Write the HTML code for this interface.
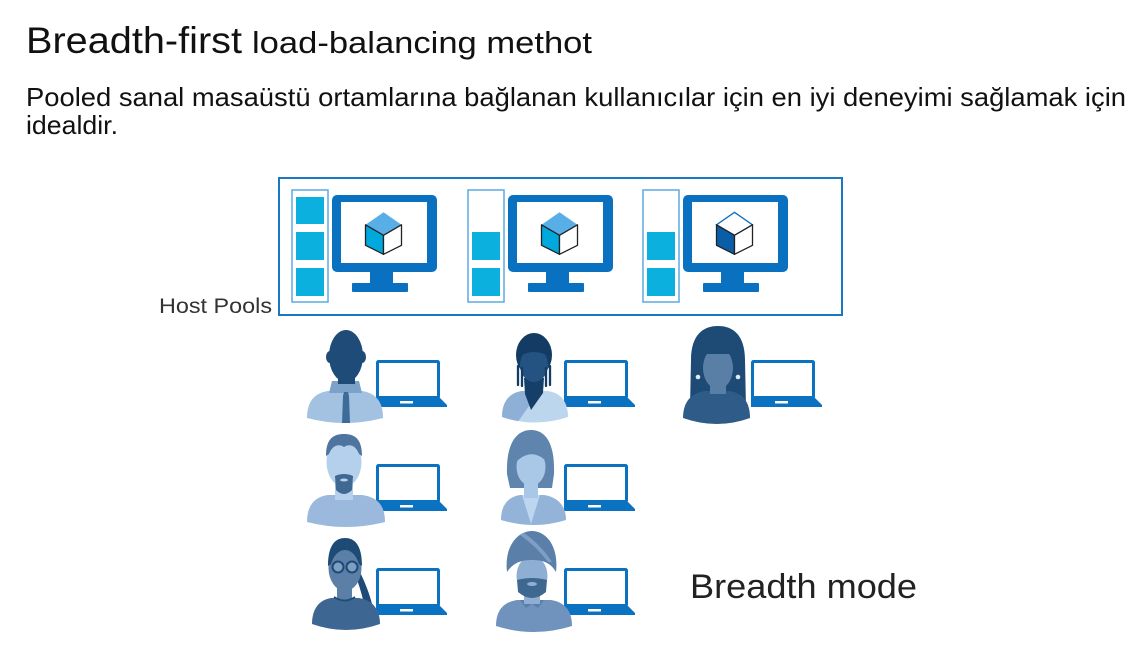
<!DOCTYPE html>
<html>
<head>
<meta charset="utf-8">
<style>
html,body{margin:0;padding:0;background:#fff;}
svg{display:block;}
text{font-family:"Liberation Sans","DejaVu Sans",sans-serif;}
</style>
</head>
<body>
<svg width="1142" height="654" viewBox="0 0 1142 654" xmlns="http://www.w3.org/2000/svg">
<rect width="1142" height="654" fill="#fff"/>

<!-- Title -->
<text x="26" y="53" font-size="37" fill="#111" textLength="216" lengthAdjust="spacingAndGlyphs">Breadth-first</text>
<text x="252" y="53" font-size="31" fill="#111" textLength="340" lengthAdjust="spacingAndGlyphs">load-balancing methot</text>
<text x="26" y="106" font-size="26" fill="#111" textLength="1100" lengthAdjust="spacingAndGlyphs">Pooled sanal masaüstü ortamlarına bağlanan kullanıcılar için en iyi deneyimi sağlamak için</text>
<text x="26" y="134" font-size="26" fill="#111" textLength="92" lengthAdjust="spacingAndGlyphs">idealdir.</text>

<!-- Host pools -->
<text x="159" y="313" font-size="21" fill="#333" textLength="113" lengthAdjust="spacingAndGlyphs">Host Pools</text>
<rect x="279" y="178" width="563" height="137" fill="none" stroke="#1a78c2" stroke-width="2"/>

<!-- Group 1 -->
<g>
  <rect x="292" y="190" width="36" height="112" fill="#fff" stroke="#5aaae0" stroke-width="1.5"/>
  <rect x="296" y="197" width="28" height="27" fill="#0cb0df"/>
  <rect x="296" y="232" width="28" height="28" fill="#0cb0df"/>
  <rect x="296" y="268" width="28" height="28" fill="#0cb0df"/>
  <rect x="332" y="195" width="105" height="77" rx="5" fill="#0a70c0"/>
  <rect x="341" y="202" width="86" height="61" fill="#fff"/>
  <rect x="370" y="271" width="23" height="13" fill="#0a70c0"/>
  <rect x="352" y="283" width="56" height="9" rx="1" fill="#0a70c0"/>
  <g transform="translate(383.5,212.3)">
    <polygon points="0,0 18,12.5 0,23 -18,12.5" fill="#5aaee8"/>
    <polygon points="-18,12.5 0,23 0,42 -18,33" fill="#00a9dd" stroke="#222" stroke-width="1.3" stroke-linejoin="round"/>
    <polygon points="0,23 18,12.5 18,33 0,42" fill="#fff" stroke="#222" stroke-width="1.3" stroke-linejoin="round"/>
  </g>
</g>

<!-- Group 2 -->
<g transform="translate(176,0)">
  <rect x="292" y="190" width="36" height="112" fill="#fff" stroke="#5aaae0" stroke-width="1.5"/>
  <rect x="296" y="232" width="28" height="28" fill="#0cb0df"/>
  <rect x="296" y="268" width="28" height="28" fill="#0cb0df"/>
  <rect x="332" y="195" width="105" height="77" rx="5" fill="#0a70c0"/>
  <rect x="341" y="202" width="86" height="61" fill="#fff"/>
  <rect x="370" y="271" width="23" height="13" fill="#0a70c0"/>
  <rect x="352" y="283" width="56" height="9" rx="1" fill="#0a70c0"/>
  <g transform="translate(383.5,212.3)">
    <polygon points="0,0 18,12.5 0,23 -18,12.5" fill="#5aaee8"/>
    <polygon points="-18,12.5 0,23 0,42 -18,33" fill="#00a9dd" stroke="#222" stroke-width="1.3" stroke-linejoin="round"/>
    <polygon points="0,23 18,12.5 18,33 0,42" fill="#fff" stroke="#222" stroke-width="1.3" stroke-linejoin="round"/>
  </g>
</g>

<!-- Group 3 -->
<g transform="translate(351,0)">
  <rect x="292" y="190" width="36" height="112" fill="#fff" stroke="#5aaae0" stroke-width="1.5"/>
  <rect x="296" y="232" width="28" height="28" fill="#0cb0df"/>
  <rect x="296" y="268" width="28" height="28" fill="#0cb0df"/>
  <rect x="332" y="195" width="105" height="77" rx="5" fill="#0a70c0"/>
  <rect x="341" y="202" width="86" height="61" fill="#fff"/>
  <rect x="370" y="271" width="23" height="13" fill="#0a70c0"/>
  <rect x="352" y="283" width="56" height="9" rx="1" fill="#0a70c0"/>
  <g transform="translate(383.5,212.3)">
    <polygon points="0,0 18,12.5 0,23 -18,12.5" fill="#fff" stroke="#0a70c0" stroke-width="1.3"/>
    <polygon points="-18,12.5 0,23 0,42 -18,33" fill="#0a5ea8" stroke="#222" stroke-width="1.3" stroke-linejoin="round"/>
    <polygon points="0,23 18,12.5 18,33 0,42" fill="#fff" stroke="#222" stroke-width="1.3" stroke-linejoin="round"/>
  </g>
</g>

<defs>
  <g id="laptop">
    <rect x="1.5" y="1.5" width="61" height="36" rx="1" fill="#fff" stroke="#0b72c2" stroke-width="3"/>
    <path d="M0,37 H63 L71,45 V47 H0 Z" fill="#0b72c2"/>
    <rect x="24" y="41" width="13" height="2.5" fill="#fff"/>
  </g>
</defs>

<!-- Row 1, col 1: man with tie -->
<g transform="translate(376,360)">
  <use href="#laptop"/>
  <path d="M-69,58 C-69,42 -62,33 -48,31 L-14,31 C0,33 7,42 7,58 Q-31,68 -69,58 Z" fill="#a3c1e1"/>
  <path d="M-44,21 L-17,21 L-14,33 L-47,33 Z" fill="#7da2ca"/>
  <rect x="-38" y="6" width="17" height="18" fill="#1e4b77"/>
  <ellipse cx="-46" cy="-3" rx="4" ry="6" fill="#1e4b77"/>
  <ellipse cx="-14" cy="-3" rx="4" ry="6" fill="#1e4b77"/>
  <ellipse cx="-30" cy="-4" rx="17" ry="26" fill="#1e4b77"/>
  <path d="M-32,32 L-28,32 L-27,36 L-26,63 L-34,63 L-33,36 Z" fill="#3e6b99"/>
</g>

<!-- Row 1, col 2: woman with braids -->
<g transform="translate(564,360)">
  <use href="#laptop"/>
  <clipPath id="b2"><path d="M-62,57 C-62,42 -55,33 -42,31 L-16,31 C-3,33 4,42 4,57 Q-29,68 -62,57 Z"/></clipPath>
  <g clip-path="url(#b2)">
    <rect x="-70" y="25" width="80" height="45" fill="#bcd6ee"/>
    <polygon points="-70,25 -20,25 -52,70 -70,70" fill="#8eb0d6"/>
  </g>
  <polygon points="-40,18 -20,18 -21,33 -33,50 -39,34" fill="#153e68"/>
  <ellipse cx="-30" cy="-5" rx="18" ry="22" fill="#133b64"/>
  <ellipse cx="-30" cy="5" rx="14" ry="17" fill="#245281"/>
  <path d="M-44,-8 Q-30,-18 -16,-8 L-16,-4 Q-30,-12 -44,-4 Z" fill="#133b64"/>
  <g stroke="#133b64" stroke-width="2.3" stroke-linecap="round">
    <line x1="-46" y1="6" x2="-46" y2="25"/>
    <line x1="-42" y1="8" x2="-42" y2="26"/>
    <line x1="-18" y1="8" x2="-18" y2="26"/>
    <line x1="-14" y1="6" x2="-14" y2="25"/>
  </g>
</g>

<!-- Row 1, col 3: woman long hair -->
<g transform="translate(751,360)">
  <use href="#laptop"/>
  <path d="M-60,0 C-60,-25 -48,-34 -33,-34 C-18,-34 -6,-25 -6,0 L-5,48 L-61,48 Z" fill="#1e4a76"/>
  <path d="M-68,58 C-68,42 -60,33 -46,31 L-22,31 C-8,33 -1,42 -1,58 Q-34,70 -68,58 Z" fill="#2e5b87"/>
  <rect x="-41" y="14" width="16" height="20" fill="#5a7fa7"/>
  <ellipse cx="-33" cy="8" rx="15" ry="21" fill="#5a7fa7"/>
  <path d="M-49,-10 Q-33,-20 -17,-10 L-17,-6 L-49,-6 Z" fill="#1e4a76"/>
  <circle cx="-53" cy="17" r="2.3" fill="#dfeaf5"/>
  <circle cx="-13" cy="17" r="2.3" fill="#dfeaf5"/>
</g>

<!-- Row 2, col 1: man with goatee -->
<g transform="translate(376,464)">
  <use href="#laptop"/>
  <path d="M-69,58 C-69,42 -62,33 -48,31 L-14,31 C2,33 9,42 9,58 Q-30,68 -69,58 Z" fill="#9ab9dd"/>
  <rect x="-41" y="14" width="18" height="22" fill="#b5d0ec"/>
  <ellipse cx="-32" cy="-2" rx="17.5" ry="25" fill="#b5d0ec"/>
  <path d="M-50,-8 C-50,-26 -42,-30 -32,-30 C-22,-30 -14,-26 -14,-8 L-17,-10 C-20,-18 -26,-21 -32,-17 C-38,-21 -44,-18 -47,-10 Z" fill="#4e75a0"/>
  <path d="M-41,12 Q-32,8 -23,12 L-24,26 Q-32,34 -40,26 Z" fill="#3f6892"/>
  <ellipse cx="-32" cy="16" rx="4" ry="1.5" fill="#b5d0ec"/>
</g>

<!-- Row 2, col 2: woman with bob -->
<g transform="translate(564,464)">
  <use href="#laptop"/>
  <path d="M-57,10 C-58,-20 -48,-34 -33,-34 C-18,-34 -9,-20 -10,10 L-12,24 L-54,24 Z" fill="#5f84ae"/>
  <path d="M-63,56 C-63,41 -56,33 -44,31 L-20,31 C-7,33 2,41 2,56 Q-30,66 -63,56 Z" fill="#93b3d8"/>
  <polygon points="-42,31 -24,31 -33,60" fill="#bdd6ef"/>
  <rect x="-40" y="14" width="14" height="20" fill="#a9c8e8"/>
  <ellipse cx="-33" cy="3" rx="14.5" ry="19" fill="#a9c8e8"/>
  <path d="M-48,-6 C-44,-18 -30,-20 -18,-10 L-19,-4 C-28,-12 -38,-12 -48,-2 Z" fill="#5f84ae"/>
</g>

<!-- Row 3, col 1: woman with glasses -->
<g transform="translate(376,568)">
  <use href="#laptop"/>
  <path d="M-18,0 Q-8,20 -4,36 L-12,36 Q-16,18 -22,4 Z" fill="#1e4a76"/>
  <path d="M-64,56 C-64,41 -57,32 -45,30 L-17,30 C-4,32 4,41 4,56 Q-30,68 -64,56 Z" fill="#3d6792"/>
  <rect x="-39" y="12" width="15" height="20" fill="#5b7fa6"/>
  <path d="M-42,29 Q-31,36 -21,29" fill="none" stroke="#1e4a76" stroke-width="1.8"/>
  <ellipse cx="-31" cy="0" rx="16.5" ry="23" fill="#5b7fa6"/>
  <path d="M-48,-2 C-48,-24 -40,-30 -31,-30 C-22,-30 -14,-24 -14,-2 L-17,-4 C-20,-14 -26,-18 -31,-18 C-36,-18 -42,-14 -45,-4 Z" fill="#1e4a76"/>
  <circle cx="-38" cy="-1" r="5.5" fill="#7f9fc2" stroke="#1e4a76" stroke-width="2"/>
  <circle cx="-24" cy="-1" r="5.5" fill="#7f9fc2" stroke="#1e4a76" stroke-width="2"/>
</g>

<!-- Row 3, col 2: man with turban -->
<g transform="translate(564,568)">
  <use href="#laptop"/>
  <path d="M-68,58 C-68,42 -60,34 -47,32 L-13,32 C0,34 8,42 8,58 Q-30,70 -68,58 Z" fill="#6f93bd"/>
  <polygon points="-44,32 -20,32 -26,40 -32,36 -38,40" fill="#5a7ea8"/>
  <rect x="-40" y="16" width="16" height="20" fill="#8faed3"/>
  <ellipse cx="-32" cy="8" rx="15.5" ry="20" fill="#8faed3"/>
  <path d="M-47,12 Q-32,8 -17,12 L-18,24 Q-32,36 -46,24 Z" fill="#3f6891"/>
  <ellipse cx="-32" cy="16" rx="5" ry="2" fill="#8faed3"/>
  <path d="M-57,4 C-60,-22 -46,-37 -32,-37 C-18,-37 -5,-22 -8,4 C-14,-6 -22,-8 -32,-8 C-42,-8 -50,-6 -57,4 Z" fill="#5a7fa9"/>
  <path d="M-40,-35 Q-24,-24 -12,-6 L-16,-6 Q-28,-22 -44,-33 Z" fill="#7e9ec6"/>
</g>

<!-- Breadth mode -->
<text x="690" y="598" font-size="34" fill="#222" textLength="227" lengthAdjust="spacingAndGlyphs">Breadth mode</text>
</svg>
</body>
</html>
